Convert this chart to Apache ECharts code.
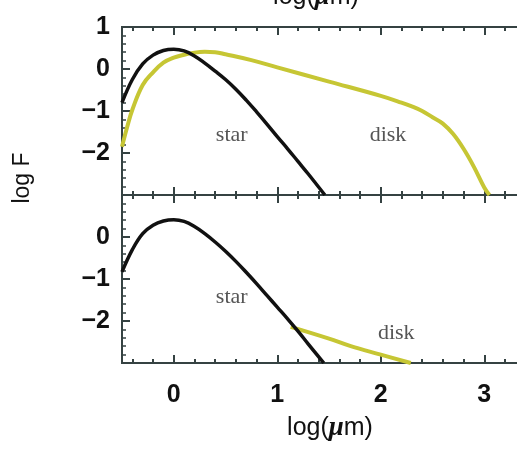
<!DOCTYPE html>
<html>
<head>
<meta charset="utf-8">
<script src="https://cdn.jsdelivr.net/npm/echarts@6/dist/echarts.min.js"></script>
<style>
html,body{margin:0;padding:0;background:#ffffff;}
#chart{width:517px;height:451px;}
</style>
</head>
<body>
<div id="chart"></div>
<script>
// ---- data (log wavelength in micron, log F) ----
var starTopX    = [-0.5, -0.4, -0.3, -0.2, -0.1, 0.0, 0.1, 0.2, 0.3, 0.4, 0.5, 0.6, 0.7, 0.8, 0.9, 1.0, 1.1, 1.2, 1.3, 1.46];
var starTopY    = [-0.8, -0.25, 0.12, 0.33, 0.44, 0.47, 0.43, 0.31, 0.14, -0.05, -0.25, -0.48, -0.74, -1.02, -1.31, -1.61, -1.9, -2.2, -2.5, -3.0];
var diskTopX    = [-0.5, -0.45, -0.4, -0.3, -0.2, -0.1, 0.0, 0.1, 0.2, 0.3, 0.4, 0.5, 0.75, 1.0, 1.5, 2.0, 2.2, 2.3, 2.4, 2.5, 2.6, 2.7, 2.8, 2.9, 3.0, 3.05];
var diskTopY    = [-1.85, -1.38, -0.97, -0.38, -0.08, 0.15, 0.27, 0.34, 0.39, 0.41, 0.4, 0.35, 0.21, 0.04, -0.3, -0.64, -0.8, -0.89, -1.0, -1.15, -1.3, -1.55, -1.9, -2.33, -2.82, -3.0];
var starBotX    = [-0.5, -0.4, -0.3, -0.2, -0.1, 0.0, 0.1, 0.2, 0.3, 0.4, 0.5, 0.6, 0.7, 0.8, 0.9, 1.0, 1.1, 1.2, 1.3, 1.45];
var starBotY    = [-0.83, -0.3, 0.08, 0.28, 0.38, 0.41, 0.37, 0.25, 0.08, -0.12, -0.34, -0.58, -0.84, -1.11, -1.39, -1.67, -1.95, -2.24, -2.55, -3.0];
var diskBotX    = [1.13, 1.5, 1.71, 2.0, 2.29];
var diskBotY    = [-2.14, -2.42, -2.6, -2.8, -3.0];

var xMajorTicks = [0, 1, 2, 3];
var xMinorTicks = [-0.4, -0.2, 0.2, 0.4, 0.6, 0.8, 1.2, 1.4, 1.6, 1.8, 2.2, 2.4, 2.6, 2.8, 3.2, 3.4];
var yTopLabels  = [1, 0, -1, -2];
var yBotLabels  = [0, -1, -2];

// annotations: [x, y, text]
var topNotes = [[0.56, -1.57, 'star'], [2.07, -1.57, 'disk']];
var botNotes = [[0.56, -1.43, 'star'], [2.15, -2.29, 'disk']];

function pairs(xs, ys){ return xs.map(function(x,i){ return [x, ys[i]]; }); }

var frameColor = '#354242';
var tickFont = {fontFamily:'Liberation Sans, Arial, sans-serif', fontWeight:'bold', fontSize:25, color:'#111'};

function xAxes(g, showLabels){
  var base = {gridIndex:g, type:'value', min:-0.5, max:3.5, splitLine:{show:false}, axisLine:{show:false, onZero:false}};
  return [
    Object.assign({}, base, {position:'bottom',
      axisTick:{show:true, inside:true, length:8, customValues:xMajorTicks, lineStyle:{color:frameColor, width:2}},
      axisLabel:Object.assign({show:showLabels, margin:20, customValues:xMajorTicks}, tickFont)}),
    Object.assign({}, base, {position:'bottom',
      axisTick:{show:true, inside:true, length:4, customValues:xMinorTicks, lineStyle:{color:frameColor, width:2}},
      axisLabel:{show:false}}),
    Object.assign({}, base, {position:'top',
      axisTick:{show:true, inside:true, length:8, customValues:xMajorTicks, lineStyle:{color:frameColor, width:2}},
      axisLabel:{show:false}}),
    Object.assign({}, base, {position:'top',
      axisTick:{show:true, inside:true, length:4, customValues:xMinorTicks, lineStyle:{color:frameColor, width:2}},
      axisLabel:{show:false}})
  ];
}
function yAxis(g, labels){
  return {gridIndex:g, type:'value', min:-3, max:1, interval:1, position:'left',
    splitLine:{show:false}, axisLine:{show:false, onZero:false},
    axisTick:{show:true, inside:true, length:8, lineStyle:{color:frameColor, width:2}},
    minorTick:{show:true, splitNumber:5, length:4, lineStyle:{color:frameColor, width:1.5}},
    axisLabel:Object.assign({margin:12, customValues:labels,
      formatter:function(v){ return v < 0 ? '\u2212' + Math.abs(v) : String(v); }}, tickFont)};
}

var yellow = '#c6c634';
var option = {
  backgroundColor:'#ffffff',
  animation:false,
  grid:[
    {left:122, top:27, height:168, width:414, outerBoundsMode:'none', containLabel:false, show:true, borderColor:frameColor, borderWidth:2, backgroundColor:'transparent'},
    {left:122, top:195, height:168, width:414, outerBoundsMode:'none', containLabel:false, show:true, borderColor:frameColor, borderWidth:2, backgroundColor:'transparent'}
  ],
  xAxis: xAxes(0, false).concat(xAxes(1, true)),
  yAxis: [yAxis(0, yTopLabels), yAxis(1, yBotLabels)],
  series:[
    {type:'line', xAxisIndex:0, yAxisIndex:0, data:pairs(diskTopX, diskTopY), smooth:0.4, showSymbol:false, lineStyle:{color:yellow, width:4}},
    {type:'line', xAxisIndex:0, yAxisIndex:0, data:pairs(starTopX, starTopY), smooth:0.4, showSymbol:false, lineStyle:{color:'#111', width:3.5}},
    {type:'line', xAxisIndex:4, yAxisIndex:1, data:pairs(diskBotX, diskBotY), smooth:0.4, showSymbol:false, lineStyle:{color:yellow, width:4}},
    {type:'line', xAxisIndex:4, yAxisIndex:1, data:pairs(starBotX, starBotY), smooth:0.4, showSymbol:false, lineStyle:{color:'#111', width:3.5}}
  ]
};

var chart = echarts.init(document.getElementById('chart'), null, {renderer:'canvas'});
chart.setOption(option);

var graphics = [];
function addNotes(notes, seriesIndex){
  notes.forEach(function(n){
    var p = chart.convertToPixel({seriesIndex:seriesIndex}, [n[0], n[1]]);
    graphics.push({type:'text', x:p[0], y:p[1], style:{text:n[2], fill:'#555', font:'22px "Liberation Serif", "Times New Roman", serif', textAlign:'center', textVerticalAlign:'middle'}});
  });
}
addNotes(topNotes, 1);
addNotes(botNotes, 3);

var muRich = {a:{fontFamily:'Liberation Sans, Arial, sans-serif', fontSize:25, fill:'#111'},
              m:{fontFamily:'Liberation Serif, serif', fontStyle:'italic', fontWeight:'bold', fontSize:27, fill:'#111'}};
graphics.push({type:'text', x:330, y:428, style:{text:'{a|log(}{m|\u03bc}{a|m)}', rich:muRich, textAlign:'center', textVerticalAlign:'middle'}});
graphics.push({type:'text', x:316, y:-3, style:{text:'{a|log(}{m|\u03bc}{a|m)}', rich:muRich, textAlign:'center', textVerticalAlign:'middle'}});
graphics.push({type:'text', x:23, y:178, rotation:Math.PI/2, style:{text:'log F', fill:'#111', font:'23px "Liberation Sans", Arial, sans-serif', textAlign:'center', textVerticalAlign:'middle'}});
chart.setOption({graphic:graphics});
</script>
</body>
</html>
